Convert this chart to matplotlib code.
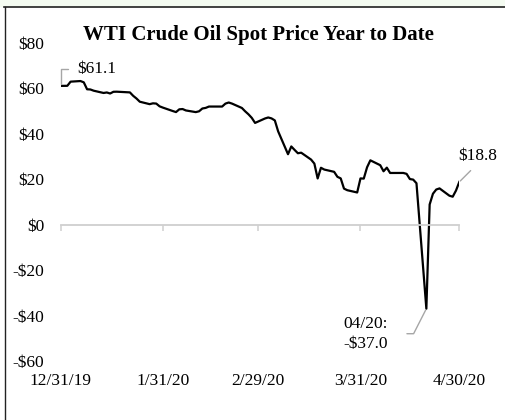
"""WTI crude oil spot price, year to date (2020)."""

import matplotlib
matplotlib.use("Agg")
import matplotlib.pyplot as plt
import matplotlib.lines as mlines
import matplotlib.patches as mpatches
import pandas as pd

FONT = "Liberation Serif"
plt.rcParams["font.family"] = [FONT, "DejaVu Serif"]

# ---- Data ----

dates_jan = ["2019-12-31", "2020-01-02", "2020-01-03", "2020-01-06", "2020-01-07",
             "2020-01-08", "2020-01-09", "2020-01-10", "2020-01-13", "2020-01-14",
             "2020-01-15", "2020-01-16", "2020-01-17", "2020-01-21", "2020-01-22",
             "2020-01-23", "2020-01-24", "2020-01-27", "2020-01-28", "2020-01-29",
             "2020-01-30", "2020-01-31"]
price_jan = [61.14, 61.17, 63.00, 63.27, 62.70, 59.65, 59.56, 59.02, 58.02, 58.24,
             57.78, 58.54, 58.58, 58.27, 56.76, 55.58, 54.17, 53.09, 53.46, 53.35,
             52.15, 51.58]

dates_feb = ["2020-02-03", "2020-02-04", "2020-02-05", "2020-02-06", "2020-02-07",
             "2020-02-10", "2020-02-11", "2020-02-12", "2020-02-13", "2020-02-14",
             "2020-02-18", "2020-02-19", "2020-02-20", "2020-02-21", "2020-02-24",
             "2020-02-25", "2020-02-26", "2020-02-27", "2020-02-28"]
price_feb = [50.07, 49.60, 50.82, 50.94, 50.32, 49.59, 49.95, 51.18, 51.44, 52.04,
             52.04, 53.33, 53.82, 53.34, 51.41, 49.93, 48.62, 47.05, 44.83]

dates_mar = ["2020-03-02", "2020-03-03", "2020-03-04", "2020-03-05", "2020-03-06",
             "2020-03-09", "2020-03-10", "2020-03-11", "2020-03-12", "2020-03-13",
             "2020-03-16", "2020-03-17", "2020-03-18", "2020-03-19", "2020-03-20",
             "2020-03-23", "2020-03-24", "2020-03-25", "2020-03-26", "2020-03-27",
             "2020-03-30", "2020-03-31"]
price_mar = [46.78, 47.23, 46.82, 45.93, 41.14, 31.05, 34.47, 32.94, 31.48, 31.72,
             28.69, 26.92, 20.37, 25.09, 24.30, 23.30, 21.10, 20.40, 15.90, 15.20,
             14.20, 20.40]

dates_apr = ["2020-04-01", "2020-04-02", "2020-04-03", "2020-04-06", "2020-04-07",
             "2020-04-08", "2020-04-09", "2020-04-13", "2020-04-14", "2020-04-15",
             "2020-04-16", "2020-04-17", "2020-04-20", "2020-04-21", "2020-04-22",
             "2020-04-23", "2020-04-24", "2020-04-27", "2020-04-28", "2020-04-29",
             "2020-04-30"]
price_apr = [20.31, 25.29, 28.36, 26.21, 23.54, 25.13, 22.79, 22.80, 22.40, 20.11,
             19.87, 18.27, -36.98, 8.91, 13.64, 15.50, 16.00, 12.78, 12.34, 15.06,
             18.84]

tick_dates = ["2019-12-31", "2020-01-31", "2020-02-29", "2020-03-31", "2020-04-30"]
tick_labels = ["12/31/19", "1/31/20", "2/29/20", "3/31/20", "4/30/20"]
y_ticks = [-60, -40, -20, 0, 20, 40, 60, 80]
y_labels = ["-$60", "-$40", "-$20", "$0", "$20", "$40", "$60", "$80"]

dates = pd.to_datetime(dates_jan + dates_feb + dates_mar + dates_apr)
price = price_jan + price_feb + price_mar + price_apr
ticks = pd.to_datetime(tick_dates)

GRAY = "#cfcfcf"
LEADER = "#a6a6a6"
FS = 12.5

# ---- Figure ----

fig = plt.figure(figsize=(5.06, 4.2), dpi=100)
ax = fig.add_axes([0.12, 0.1405, 0.7877, 0.757])

ax.plot(dates, price, color="black", lw=1.6, solid_joinstyle="round")

ax.set_xlim(ticks[0], ticks[-1])
ax.set_ylim(-60, 80)
ax.set_yticks(y_ticks, y_labels)
ax.tick_params(axis="y", length=0, pad=12, labelsize=FS)

for s in ("left", "right", "top"):
    ax.spines[s].set_visible(False)
ax.spines["bottom"].set_position(("data", 0))
ax.spines["bottom"].set_color(GRAY)
ax.spines["bottom"].set_linewidth(1.3)
ax.set_xticks(ticks)
ax.tick_params(axis="x", direction="out", length=4, width=1.1, color=GRAY,
               labelbottom=False)

sec = ax.secondary_xaxis("bottom")
sec.set_xticks(ticks, tick_labels)
sec.tick_params(length=0, pad=9, labelsize=FS)
sec.spines["bottom"].set_visible(False)

# ---- Annotations ----

ax.annotate("$61.1", xy=(dates[0], price[0]), xytext=(12, 12),
            textcoords="offset points", fontsize=FS, va="center", ha="left",
            arrowprops=dict(arrowstyle="-", color=LEADER, lw=1,
                            relpos=(0, 0.5), shrinkA=5, shrinkB=1,
                            connectionstyle="angle,angleA=0,angleB=90,rad=0"))

ax.annotate("$18.8", xy=(dates[-1], price[-1]), xytext=(13, 13),
            textcoords="offset points", fontsize=FS, va="bottom", ha="center",
            arrowprops=dict(arrowstyle="-", color=LEADER, lw=1,
                            relpos=(0.5, 0), shrinkA=4, shrinkB=1))

i_min = price.index(min(price))
ax.annotate("04/20:\n-$37.0", xy=(dates[i_min], price[i_min]), xytext=(-28, -18),
            textcoords="offset points", fontsize=FS, va="center", ha="right",
            linespacing=1.3,
            arrowprops=dict(arrowstyle="-", color=LEADER, lw=1,
                            relpos=(1, 0.5), shrinkA=12, shrinkB=1,
                            connectionstyle="angle,angleA=0,angleB=63,rad=0"))

fig.text(258 / 506, 1 - 35 / 420, "WTI Crude Oil Spot Price Year to Date",
         ha="center", va="center", fontsize=15, fontweight="bold")

# ---- Frame ----

fig.patches.append(mpatches.Rectangle((0, 1 - 6 / 420), 1, 6 / 420,
                                      transform=fig.transFigure,
                                      color="#f4fbf1", zorder=0))
fig.lines.append(mlines.Line2D([4 / 506, 1], [1 - 6.5 / 420] * 2,
                               transform=fig.transFigure, color="#222222", lw=1.2))
fig.lines.append(mlines.Line2D([4.5 / 506] * 2, [0, 1 - 6.5 / 420],
                               transform=fig.transFigure, color="#222222", lw=1.0))

fig.savefig("out.png", dpi=100)
